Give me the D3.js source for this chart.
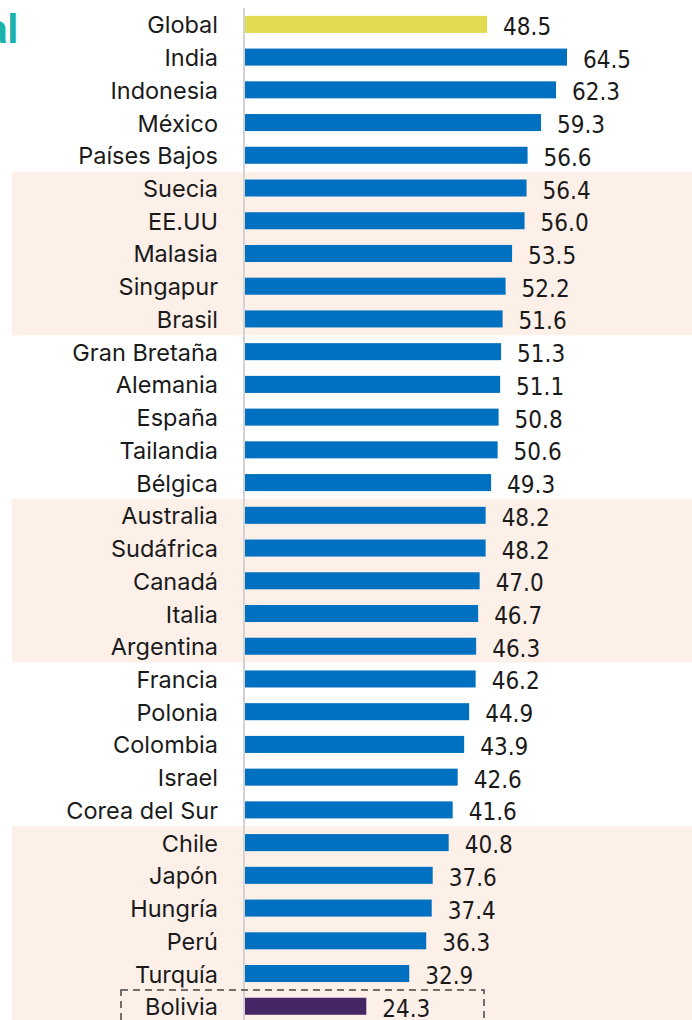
<!DOCTYPE html>
<html><head><meta charset="utf-8">
<script src="https://cdn.jsdelivr.net/npm/d3@7/dist/d3.min.js"></script>
<style>html,body{margin:0;padding:0;background:#fff;}svg{display:block;}</style>
</head><body>
<script>
const categories = ["Global","India","Indonesia","México","Países Bajos","Suecia","EE.UU","Malasia","Singapur","Brasil","Gran Bretaña","Alemania","España","Tailandia","Bélgica","Australia","Sudáfrica","Canadá","Italia","Argentina","Francia","Polonia","Colombia","Israel","Corea del Sur","Chile","Japón","Hungría","Perú","Turquía","Bolivia"];
const values = [48.5,64.5,62.3,59.3,56.6,56.4,56.0,53.5,52.2,51.6,51.3,51.1,50.8,50.6,49.3,48.2,48.2,47.0,46.7,46.3,46.2,44.9,43.9,42.6,41.6,40.8,37.6,37.4,36.3,32.9,24.3];
const bandGroups = [["Suecia","Brasil"],["Australia","Argentina"],["Chile","Bolivia"]];
const highlightGlobal = "Global";
const highlightFocus = "Bolivia";
const titleFragment = "al";

const W = 692, H = 1020;
const svg = d3.select("body").append("svg").attr("width", W).attr("height", H);

const y = d3.scaleBand().domain(categories).range([8, 8 + 31*32.73]).paddingInner(0.48).paddingOuter(0.24);
const yRow = d3.scaleBand().domain(categories).range([8, 8 + 31*32.73]);
const x = d3.scaleLinear().domain([0, 64.5]).range([245, 567]);

// highlight bands
bandGroups.forEach(([a,b]) => {
  const top = yRow(a), bot = yRow(b) + yRow.bandwidth();
  svg.append("rect").attr("x", 12).attr("y", top).attr("width", W - 12).attr("height", bot - top).attr("fill", "#fdf0e9");
});

// title fragment
svg.append("text").attr("x", 18).attr("y", 43).attr("text-anchor", "end")
  .attr("font-family", "Roboto").attr("font-weight", 700).attr("font-size", 40)
  .attr("fill", "#1db3ab").text(titleFragment);

// bars
svg.selectAll("rect.bar").data(categories).join("rect").attr("class","bar")
  .attr("x", x(0)).attr("y", d => y(d)).attr("height", y.bandwidth())
  .attr("width", (d,i) => x(values[i]) - x(0))
  .attr("fill", d => d === highlightGlobal ? "#e2da50" : d === highlightFocus ? "#452766" : "#0070c0");

// axis line
svg.append("line").attr("x1", 244).attr("x2", 244).attr("y1", 8).attr("y2", H)
  .attr("stroke", "#d3d3d3").attr("stroke-width", 2);

// category labels
svg.selectAll("text.cat").data(categories).join("text").attr("class","cat")
  .attr("x", 218).attr("y", d => yRow(d) + yRow.bandwidth()/2 + 9)
  .attr("text-anchor", "end").attr("font-family", "Inter, Roboto").attr("font-size", 23.5)
  .attr("fill", "#1a1a1a").text(d => d);

// value labels
svg.selectAll("text.val").data(categories).join("text").attr("class","val")
  .attr("x", (d,i) => x(values[i]) + 16).attr("y", d => yRow(d) + yRow.bandwidth()/2 + 10.5)
  .attr("font-family", "DejaVu Sans Condensed, DejaVu Sans").attr("font-stretch","condensed").attr("font-size", 24)
  .attr("fill", "#1a1a1a").text((d,i) => values[i].toFixed(1));

// dashed focus box
const by = yRow(highlightFocus);
svg.append("rect").attr("x", 121).attr("y", by).attr("width", 363).attr("height", 60)
  .attr("fill", "none").attr("stroke", "#444").attr("stroke-width", 1.5).attr("stroke-dasharray", "7,5");
</script>
</body></html>
